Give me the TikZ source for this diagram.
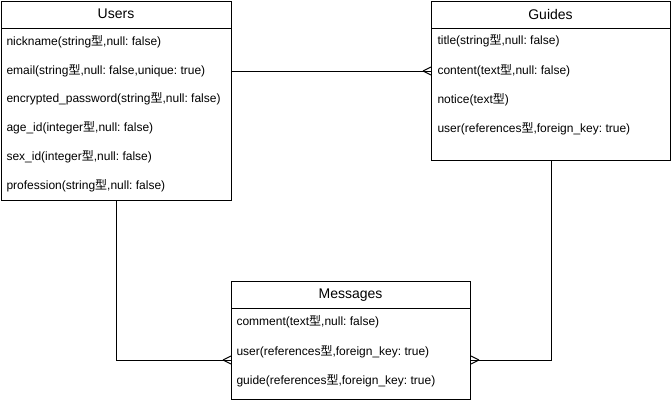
\documentclass[tikz,border=0pt]{standalone}
\usepackage{fontspec}
\setmainfont{Liberation Sans}
\newfontfamily\jpfont{Noto Sans CJK JP}
\newcommand{\kata}{{\jpfont 型}}
\frenchspacing

\begin{document}
\begin{tikzpicture}[x=1pt, y=-1pt, line width=1pt,
    tbl/.style={draw, rectangle, anchor=north west, inner sep=0pt},
    head/.style={inner sep=0pt, font=\fontsize{14}{16}\selectfont},
    attr/.style={anchor=west, inner sep=0pt, font=\fontsize{12}{14}\selectfont}]
  \useasboundingbox (0,0) rectangle (671,400);

  % Users
  \node[tbl, minimum width=230, minimum height=199] (users) at (1,1) {};
  \node[head] (users-h) at (116,14) {Users};
  \draw (1,28) -- (231,28);
  \foreach \t [count=\i] in {{nickname(string\kata,null: false)},
      {email(string\kata,null: false,unique: true)},
      {encrypted\_password(string\kata,null: false)},
      {age\_id(integer\kata,null: false)},
      {sex\_id(integer\kata,null: false)},
      {profession(string\kata,null: false)}} {
    \node[attr] (users-\i) at (6, {41.5+(\i-1)*28.8}) {\t};
  }

  % Guides
  \node[tbl, minimum width=239, minimum height=159] (guides) at (431,1) {};
  \node[head] (guides-h) at (550.5,14) {Guides};
  \draw (431,28) -- (670,28);
  \foreach \t [count=\i] in {{title(string\kata,null: false)},
      {content(text\kata,null: false)},
      {notice(text\kata)},
      {user(references\kata,foreign\_key: true)}} {
    \node[attr] (guides-\i) at (437, {41+(\i-1)*29.3}) {\t};
  }

  % Messages
  \node[tbl, minimum width=239, minimum height=118] (messages) at (231,281) {};
  \node[head] (messages-h) at (350.5,295) {Messages};
  \draw (231,308) -- (470,308);
  \foreach \t [count=\i] in {{comment(text\kata,null: false)},
      {user(references\kata,foreign\_key: true)},
      {guide(references\kata,foreign\_key: true)}} {
    \node[attr] (messages-\i) at (236, {322+(\i-1)*29.5}) {\t};
  }

  % relations (crow's foot on the many side)
  \coordinate (glink) at (0,71);
  \coordinate (mlink) at (0,360);
  \draw (users.east |- glink) -- (guides.west |- glink);
  \draw (guides.west |- glink) ++(-8,0) -- ++(8,-4) ++(-8,4) -- ++(8,4);
  \draw (users.south) |- (messages.west |- mlink);
  \draw (messages.west |- mlink) ++(-8,0) -- ++(8,-4) ++(-8,4) -- ++(8,4);
  \draw (guides.south) |- (messages.east |- mlink);
  \draw (messages.east |- mlink) ++(8,0) -- ++(-8,-4) ++(8,4) -- ++(-8,4);
\end{tikzpicture}
\end{document}
